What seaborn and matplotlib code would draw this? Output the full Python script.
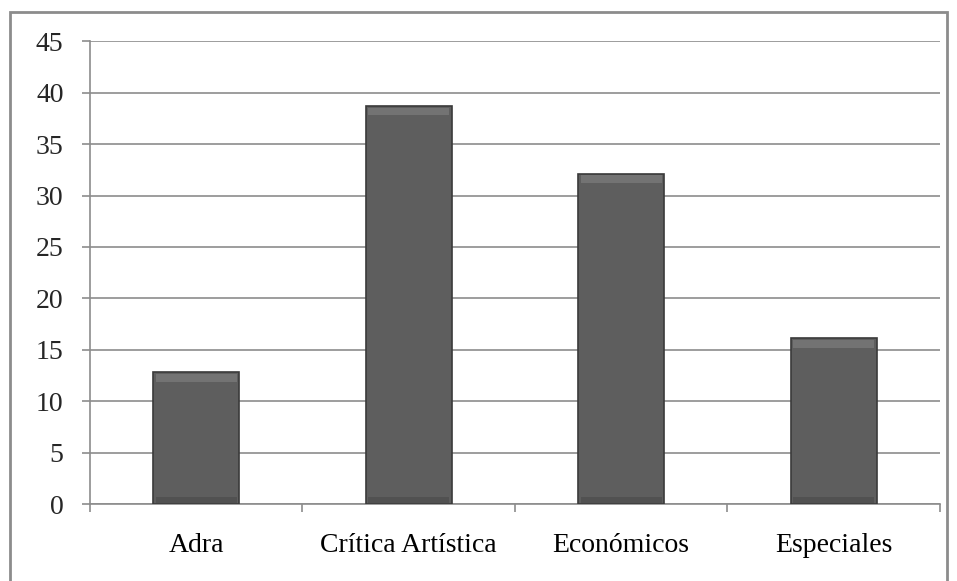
import matplotlib
matplotlib.use("Agg")
import matplotlib.pyplot as plt
import matplotlib.patches as mpatches
import seaborn as sns
import pandas as pd
import numpy as np

categories = ["Adra", "Crítica Artística", "Económicos", "Especiales"]
values = [12.8, 38.7, 32.1, 16.1]
yticks = [0, 5, 10, 15, 20, 25, 30, 35, 40, 45]

sns.set_theme(style="white")
plt.rcParams['font.family'] = ['Liberation Serif', 'DejaVu Serif']

df = pd.DataFrame({"cat": categories, "val": values})

fig = plt.figure(figsize=(9.57, 5.81), dpi=100)
ax = fig.add_axes([0.094, 0.1325, 0.888, 0.7965])

sns.barplot(data=df, x="cat", y="val", color="#5e5e5e", width=0.405,
            saturation=1, edgecolor="#3a3a3a", linewidth=1.2, ax=ax, zorder=3)

# bevel-like highlight on bar tops / shade at bottom
for p in list(ax.patches):
    x0, w, h = p.get_x(), p.get_width(), p.get_height()
    ax.add_patch(mpatches.Rectangle((x0 + 0.03 * w, h - 0.9), w * 0.94, 0.75,
                                    facecolor="#7c7c7c", edgecolor="none", zorder=4, alpha=0.7))
    ax.add_patch(mpatches.Rectangle((x0 + 0.03 * w, 0.1), w * 0.94, 0.6,
                                    facecolor="#4c4c4c", edgecolor="none", zorder=4, alpha=0.7))

ax.set_ylim(0, 45)
ax.set_xlim(-0.5, len(categories) - 0.5)
ax.set_yticks(yticks)
ax.set_yticklabels([str(t) for t in yticks])
ax.yaxis.grid(True, color="#8c8c8c", linewidth=1.2, zorder=0)
ax.set_axisbelow(True)
ax.set_xlabel("")
ax.set_ylabel("")

ax.set_xticks(range(len(categories)))
ax.set_xticklabels(categories)
ax.set_xticks(np.arange(-0.5, len(categories), 1.0), minor=True)
ax.tick_params(axis="x", which="major", length=0, pad=21, labelsize=20, colors="black")
ax.tick_params(axis="x", which="minor", length=6, width=1.2, color="#8c8c8c", direction="out", bottom=True)
ax.tick_params(axis="y", length=6, width=1.2, color="#8c8c8c", direction="out", pad=13, labelsize=20, left=True)

for s in ["top", "right"]:
    ax.spines[s].set_visible(False)
for s in ["left", "bottom"]:
    ax.spines[s].set_color("#8c8c8c")
    ax.spines[s].set_linewidth(1.2)

fig.patches.append(mpatches.Rectangle((10 / 957, -0.01), 937 / 957, 1 - 12 / 581 + 0.01,
                                      transform=fig.transFigure, fill=False,
                                      edgecolor="#8c8c8c", linewidth=2))

fig.savefig("out.png", dpi=100)
